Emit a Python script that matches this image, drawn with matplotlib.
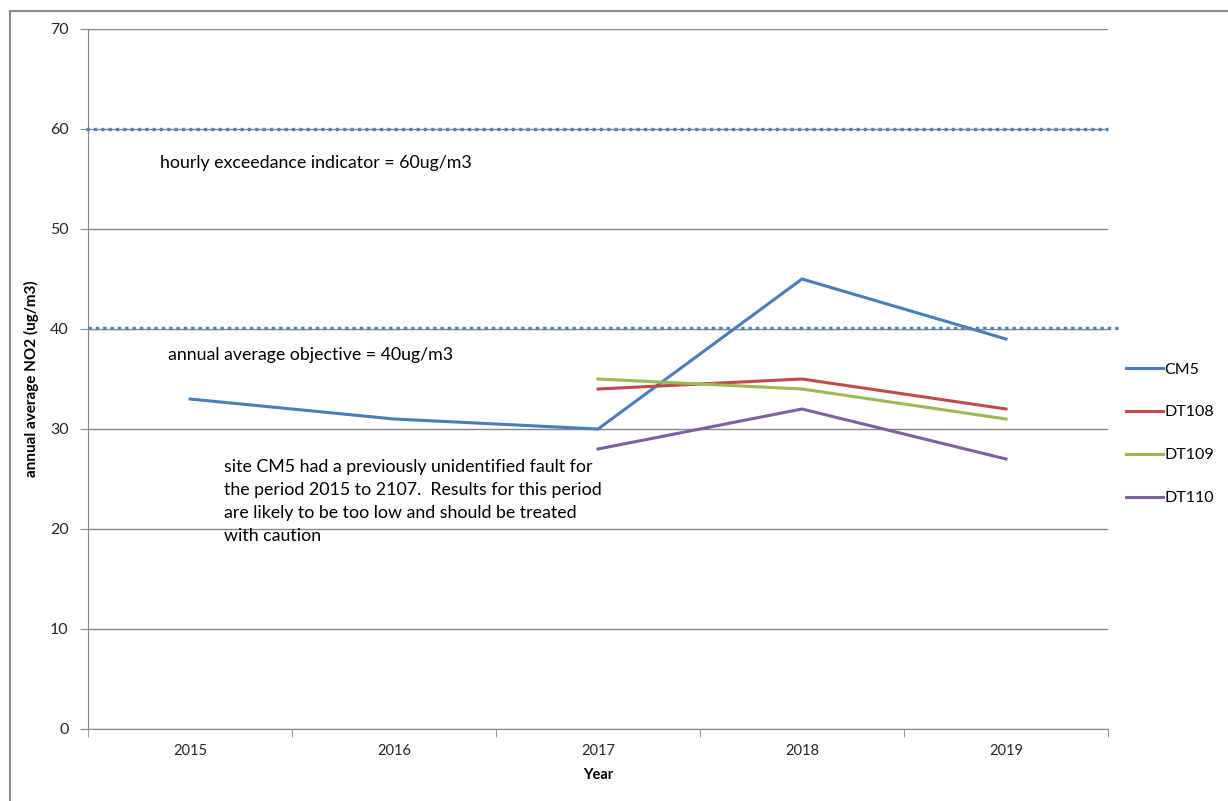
import matplotlib.pyplot as plt
from matplotlib.lines import Line2D

plt.rcParams['font.family'] = ['Lato', 'DejaVu Sans']

years = ['2015', '2016', '2017', '2018', '2019']
cm5 = [33, 31, 30, 45, 39]
dt108 = [34, 35, 32]
dt109 = [35, 34, 31]
dt110 = [28, 32, 27]
late_x = [2, 3, 4]

hourly_limit = 60
annual_limit = 40.15

series_colors = {'CM5': '#4A7EBB', 'DT108': '#BE4B48', 'DT109': '#98B954', 'DT110': '#7D60A0'}
grid_col = '#868686'

fig = plt.figure(figsize=(12.28, 8.01), dpi=100)
ax = fig.add_axes([88/1228, 72/801, 1020/1228, 700/801])

# outer frame (only left and top show in the crop)
fig.add_artist(Line2D([10/1228, 10/1228], [0, 1 - 11/801], color='#8C8C8C', lw=1.5, transform=fig.transFigure))
fig.add_artist(Line2D([10/1228, 1], [1 - 11/801, 1 - 11/801], color='#8C8C8C', lw=1.5, transform=fig.transFigure))

x = list(range(len(years)))
ax.plot(x, cm5, color=series_colors['CM5'], lw=2.2, label='CM5')
ax.plot(late_x, dt108, color=series_colors['DT108'], lw=2.2, label='DT108')
ax.plot(late_x, dt109, color=series_colors['DT109'], lw=2.2, label='DT109')
ax.plot(late_x, dt110, color=series_colors['DT110'], lw=2.2, label='DT110')

ax.plot([-0.51, 4.5], [hourly_limit, hourly_limit], color='#4F81BD', lw=2.4,
        linestyle=(0, (1, 1.2)), clip_on=False, zorder=3)
ax.plot([-0.5, 4.55], [annual_limit, annual_limit], color='#4F81BD', lw=2.4,
        linestyle=(0, (1, 1.2)), clip_on=False, zorder=3)

ax.set_xlim(-0.5, 4.5)
ax.set_ylim(0, 70)
ax.set_yticks(range(0, 71, 10))
ax.set_xticks(x)
ax.set_xticklabels(years)
ax.set_xticks([i - 0.5 for i in range(len(years) + 1)], minor=True)
ax.tick_params(axis='x', which='major', length=0, pad=11, labelsize=10.5, colors='#262626')
ax.tick_params(axis='x', which='minor', length=6, color=grid_col, direction='out')
ax.tick_params(axis='y', length=6, color=grid_col, pad=8, labelsize=11.5, labelcolor='#262626')
ax.yaxis.grid(True, color=grid_col, lw=1)
ax.set_axisbelow(True)
for s in ['top', 'right']:
    ax.spines[s].set_visible(False)
for s in ['left', 'bottom']:
    ax.spines[s].set_color(grid_col)

ax.set_ylabel('annual average NO2 (ug/m3)', fontsize=11, fontweight='bold', labelpad=8)
ax.set_xlabel('Year', fontsize=10.5, fontweight='bold', labelpad=7)

ax.text(-0.147, 56.6, 'hourly exceedance indicator = 60ug/m3', fontsize=12.8, va='center', ha='left')
ax.text(-0.108, 37.4, 'annual average objective = 40ug/m3', fontsize=12.8, va='center', ha='left')
ax.text(0.167, 27.0,
        'site CM5 had a previously unidentified fault for\n'
        'the period 2015 to 2107.  Results for this period\n'
        'are likely to be too low and should be treated\n'
        'with caution',
        fontsize=12.8, va='top', ha='left', linespacing=1.55)

fig.legend(loc='upper left', bbox_to_anchor=(1112/1228, 1 - 348/801), frameon=False,
           handlelength=2.3, handletextpad=0.1, labelspacing=1.8, fontsize=11.5)

fig.savefig('out.png', dpi=100)
